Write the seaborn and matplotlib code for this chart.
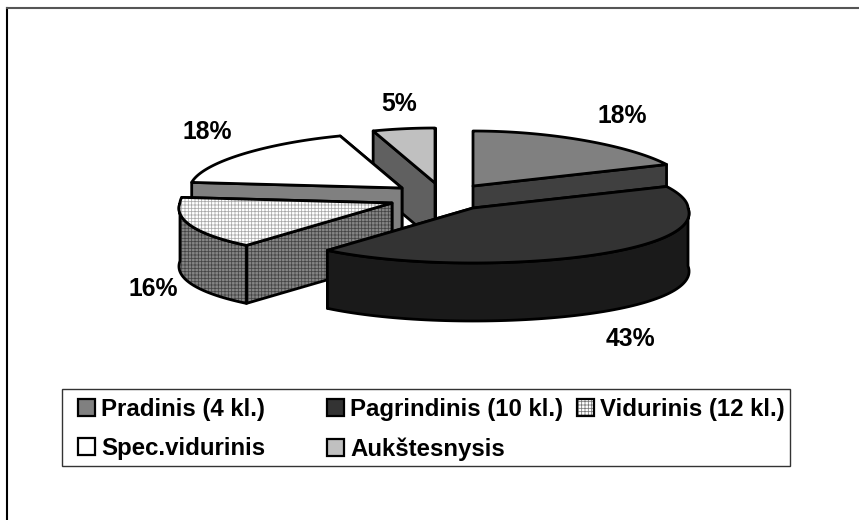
import numpy as np
import pandas as pd
import matplotlib
matplotlib.use("Agg")
import matplotlib.pyplot as plt
from matplotlib.patches import Polygon, Rectangle, Patch
from matplotlib.legend_handler import HandlerTuple
import seaborn as sns

# ---- data ----
categories = ["Pradinis (4 kl.)", "Pagrindinis (10 kl.)", "Vidurinis (12 kl.)",
              "Spec.vidurinis", "Aukštesnysis"]
shares = [18, 43, 16, 18, 5]
labels = ["18%", "43%", "16%", "18%", "5%"]

# ---- style ----
top_colors = ["#808080", "#333333", "#ffffff", "#ffffff", "#c0c0c0"]
wall_colors = ["#404040", "#1a1a1a", "#858585", "#808080", "#606060"]

W, H = 859, 520
sns.set_theme(style="white")
plt.rcParams["font.family"] = ["Liberation Sans", "DejaVu Sans"]
plt.rcParams["text.color"] = "black"
plt.rcParams["hatch.linewidth"] = 0.55

fig = plt.figure(figsize=(W / 100, H / 100), dpi=100, facecolor="white")
X0, Y0, X1, Y1 = 7, 8, 859, 520
ax = fig.add_axes([X0 / W, 1 - Y1 / H, (X1 - X0) / W, (Y1 - Y0) / H])
ax.set_xlim(X0, X1)
ax.set_ylim(Y1, Y0)
ax.set_xticks([])
ax.set_yticks([])
sns.despine(ax=ax, top=False, left=False, right=True, bottom=True)
ax.spines["left"].set(color="black", linewidth=1.5)
ax.spines["top"].set(color="#555555", linewidth=1.5)

df = pd.DataFrame({"category": categories, "share": shares})
df["start"] = df["share"].cumsum().shift(fill_value=0) / df["share"].sum() * 2 * np.pi
df["end"] = df["share"].cumsum() / df["share"].sum() * 2 * np.pi

# ---- 3-D pie projection (layout) ----
RX_RIGHT, RX_LEFT, RY, DEPTH = 215.0, 212.0, 55.0, 58.0
PERSP_FRONT, PERSP_BACK = 0.10, 0.065
LW = 2.0
apex_x = [473, 473, 392, 402, 435]
apex_y = [186, 208, 203, 188, 183]
draw_order = [4, 3, 0, 2, 1]
label_x = [622, 630, 153, 207, 399]
label_y = [116, 339, 289, 132, 104]


def rim(theta, cx, cy):
    c = np.cos(theta)
    s = np.sin(theta)
    k = 1 + PERSP_FRONT * np.maximum(0, -c) - PERSP_BACK * np.maximum(0, c) ** 3
    rx = np.where(s >= 0, RX_RIGHT, RX_LEFT)
    dy = np.where(c >= 0, np.abs(c) ** 1.1, c)
    return cx + rx * k * s, cy - RY * dy


def face(pts, fc, z, hatch_color=None):
    ax.add_patch(Polygon(pts, closed=True, facecolor=fc, edgecolor="none", zorder=z))
    if hatch_color is not None:
        ax.add_patch(Polygon(pts, closed=True, facecolor="none", edgecolor=hatch_color,
                             hatch="+++++", linewidth=0, zorder=z + 0.1))
    ax.add_patch(Polygon(pts, closed=True, facecolor="none", edgecolor="black",
                         linewidth=LW, joinstyle="round", zorder=z + 0.2))


z = 2.0
for i in draw_order:
    row = df.iloc[i]
    cx, cy = apex_x[i], apex_y[i]
    a, b = row["start"], row["end"]
    top_h = "#a8a8a8" if i == 2 else None
    wall_h = "#444444" if i == 2 else None
    quads = []
    for th in (a, b):
        px, py = rim(th, cx, cy)
        quads.append(np.array([[cx, cy], [px, py], [px, py + DEPTH], [cx, cy + DEPTH]]))
    lo, hi = max(a, np.pi / 2), min(b, 3 * np.pi / 2)
    if hi > lo:
        t = np.linspace(lo, hi, 80)
        ox, oy = rim(t, cx, cy)
        upper = np.column_stack([ox, oy])
        lower = np.column_stack([ox, oy + DEPTH])[::-1]
        quads.append(np.vstack([upper, lower]))
    quads.sort(key=lambda q: q[:, 1].mean())
    for q in quads:
        face(q, wall_colors[i], z, wall_h)
        z += 0.3
    t = np.linspace(a, b, 120)
    ox, oy = rim(t, cx, cy)
    face(np.vstack([[[cx, cy]], np.column_stack([ox, oy])]), top_colors[i], z, top_h)
    z += 0.3

for lx, ly, text in zip(label_x, label_y, labels):
    ax.text(lx, ly, text, ha="center", va="center", fontsize=17.8,
            fontweight="bold", color="black", zorder=50)

# ---- legend ----
ax.add_patch(Rectangle((62, 389), 728, 77, facecolor="white", edgecolor="#333333",
                       linewidth=1.0, zorder=40))


def swatch(i):
    if i == 2:
        return (Patch(facecolor="white", edgecolor="#777777", hatch="+++++", linewidth=0),
                Patch(facecolor="none", edgecolor="black", linewidth=1.6))
    return Patch(facecolor=top_colors[i], edgecolor="black", linewidth=1.6)


order = [0, 3, 1, 4, 2]
FS = 17.3
leg = ax.legend([swatch(i) for i in order], [categories[i] for i in order], ncol=3,
                loc="upper left", bbox_to_anchor=(78, 398), bbox_transform=ax.transData,
                frameon=False, borderpad=0, borderaxespad=0,
                prop={"weight": "bold", "size": FS},
                handlelength=0.7, handleheight=0.7, handletextpad=0.26,
                columnspacing=0.55, labelspacing=0.67,
                handler_map={tuple: HandlerTuple(ndivide=1, pad=0)})
leg.set_zorder(45)
leg._legend_handle_box.mode = "equal"

fig.savefig("out.png", dpi=100, facecolor="white")
